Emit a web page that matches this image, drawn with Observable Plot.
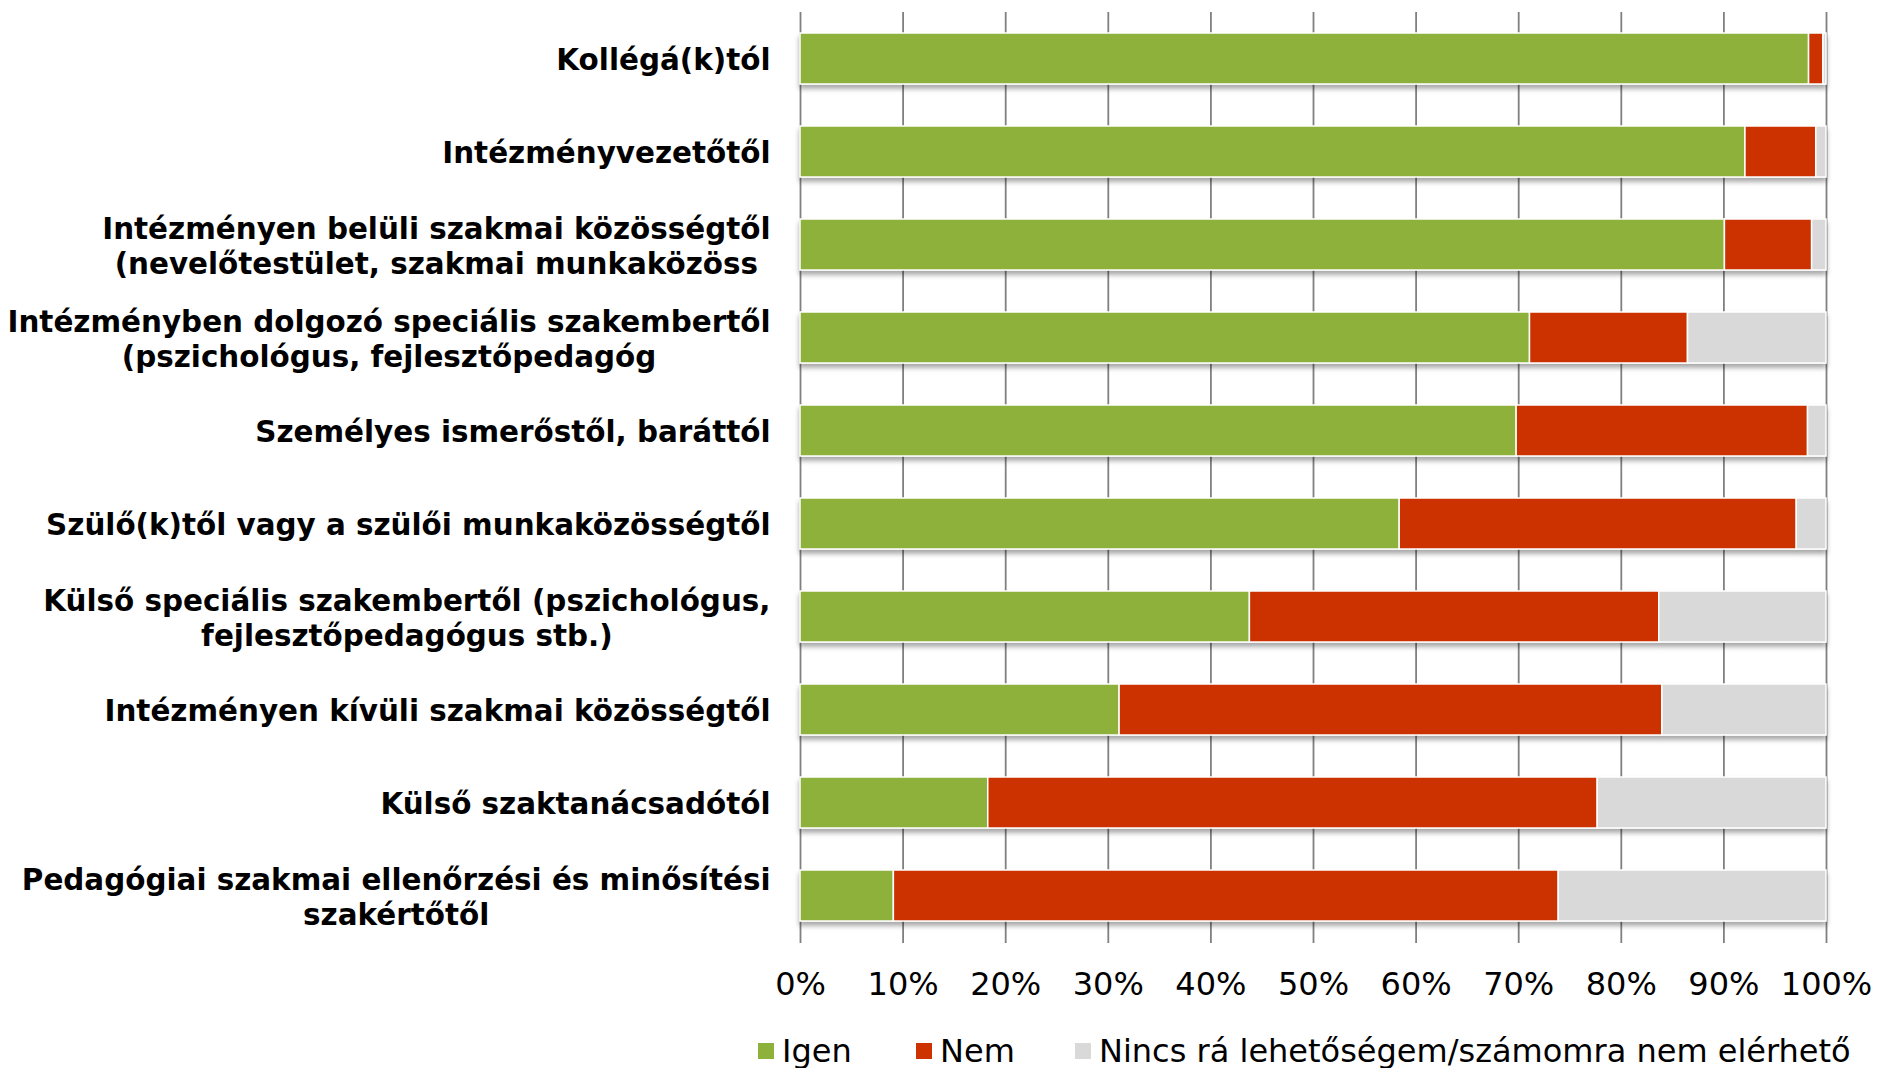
<!DOCTYPE html>
<html><head><meta charset="utf-8">
<script src="https://cdn.jsdelivr.net/npm/d3@7"></script>
<script src="https://cdn.jsdelivr.net/npm/@observablehq/plot@0.6"></script>
<style>
body{margin:0;background:#fff;font-family:Verdana,"DejaVu Sans",sans-serif;}
#wrap{position:relative;width:1877px;height:1068px;overflow:hidden;background:#fff;}
.leg{position:absolute;top:1033px;font-size:32px;line-height:36px;color:#000;white-space:nowrap;font-family:Verdana,"DejaVu Sans",sans-serif;}
.sw{display:inline-block;width:16px;height:16px;margin-right:8px;vertical-align:middle;position:relative;top:-2px;}
</style></head><body><div id="wrap"></div>
<script>
const categories = [
  "Kollégá(k)tól",
  "Intézményvezetőtől",
  "Intézményen belüli szakmai közösségtől\n(nevelőtestület, szakmai munkaközöss",
  "Intézményben dolgozó speciális szakembertől\n(pszichológus, fejlesztőpedagóg",
  "Személyes ismerőstől, baráttól",
  "Szülő(k)től vagy a szülői munkaközösségtől",
  "Külső speciális szakembertől (pszichológus,\nfejlesztőpedagógus stb.)",
  "Intézményen kívüli szakmai közösségtől",
  "Külső szaktanácsadótól",
  "Pedagógiai szakmai ellenőrzési és minősítési\nszakértőtől"
];
const series = ["Igen", "Nem", "Nincs rá lehetőségem/számomra nem elérhető"];
const igen  = [98.3, 92.1, 90.1, 71.1, 69.8, 58.4, 43.8, 31.1, 18.3, 9.1];
const nem   = [1.4, 6.9, 8.5, 15.4, 28.4, 38.7, 39.9, 52.9, 59.4, 64.8];
const nincs = [0.3, 1.0, 1.4, 13.5, 1.8, 2.9, 16.3, 16.0, 22.3, 26.1];
const colors = ["#8DB13A", "#CC3300", "#D9D9D9"];
const xTicks = [0, 10, 20, 30, 40, 50, 60, 70, 80, 90, 100];

const values = [igen, nem, nincs];
const table = [];
series.forEach((s, si) => categories.forEach((c, ci) => table.push({cat: c, series: s, value: values[si][ci]})));

const chart = Plot.plot({
  width: 1877,
  height: 1010,
  marginLeft: 800,
  marginRight: 51,
  marginTop: 12,
  marginBottom: 67,
  style: {fontFamily: 'Verdana, "DejaVu Sans", sans-serif', color: "#000", background: "#fff"},
  x: {domain: [0, 100], ticks: xTicks, tickFormat: d => d + "%", label: null},
  y: {domain: categories, paddingInner: 0.447, paddingOuter: 0.218, label: null},
  color: {domain: series, range: colors},
  marks: [
    Plot.ruleX(xTicks, {stroke: "#808080", strokeWidth: 1.8}),
    Plot.barX(table, Plot.stackX({x: "value", y: "cat", fill: "series", order: series, stroke: "#fff", strokeWidth: 1.5})),
    Plot.axisX({ticks: xTicks, tickFormat: d => d + "%", tickSize: 0, tickPadding: 29, fontSize: 32, fill: "#000", label: null}),
    Plot.axisY({tickSize: 0, tickPadding: 30, fontSize: 29.4, fontWeight: "bold", lineHeight: 1.22, fill: "#000", label: null})
  ]
});

const wrap = document.getElementById("wrap");
wrap.appendChild(chart);

// drop shadow under the bars
const svg = d3.select(chart);
const defs = svg.insert("defs", ":first-child");
const f = defs.append("filter").attr("id", "shadow").attr("x", "-5%").attr("y", "-20%").attr("width", "110%").attr("height", "150%");
f.append("feDropShadow").attr("dx", 0).attr("dy", 4).attr("stdDeviation", 2.5).attr("flood-color", "#000").attr("flood-opacity", 0.35);
svg.selectAll('g[aria-label="bar"]').attr("filter", "url(#shadow)");

// center multi-line y labels within their right-aligned block
svg.selectAll('g[aria-label="y-axis tick label"] text').each(function () {
  const tspans = d3.select(this).selectAll("tspan");
  if (tspans.size() < 2) return;
  let maxW = 0;
  tspans.each(function () { maxW = Math.max(maxW, this.getComputedTextLength()); });
  d3.select(this).attr("text-anchor", "middle");
  tspans.attr("x", -maxW / 2);
});

// legend
const legendPos = [758, 916, 1075];
series.forEach((s, i) => {
  const d = document.createElement("div");
  d.className = "leg";
  d.style.left = legendPos[i] + "px";
  const sw = document.createElement("span");
  sw.className = "sw";
  sw.style.background = colors[i];
  d.appendChild(sw);
  d.appendChild(document.createTextNode(s));
  wrap.appendChild(d);
});
</script>
</body></html>
